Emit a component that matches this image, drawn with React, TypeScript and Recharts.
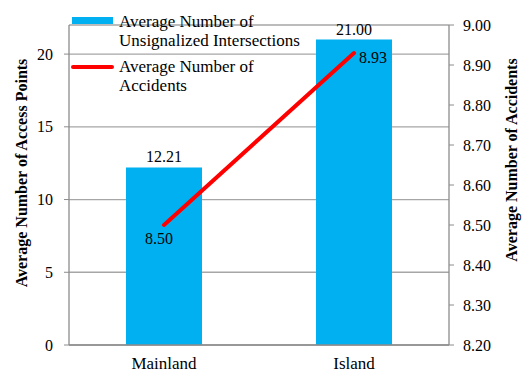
import React from 'react';
import { ComposedChart, Bar, Line, XAxis, YAxis, CartesianGrid, LabelList, Legend } from 'recharts';

const categories = ['Mainland', 'Island'];
const accessPoints = [12.21, 21.0];
const accidents = [8.5, 8.93];
const leftTicks = [0, 5, 10, 15, 20];
const rightTicks = [8.2, 8.3, 8.4, 8.5, 8.6, 8.7, 8.8, 8.9, 9.0];
const seriesNames = ['Average Number of Unsignalized Intersections', 'Average Number of Accidents'];
const leftTitle = 'Average Number of Access Points';
const rightTitle = 'Average Number of Accidents';

const data = categories.map((c, i) => ({ name: c, access: accessPoints[i], accidents: accidents[i], idx: i }));

const FONT = 'Liberation Serif, Times New Roman, serif';
const BLUE = '#00B0F0';
const RED = '#FF0000';
const GRID = '#A6A6A6';
const AXIS = '#8C8C8C';

const tickStyle = { fontFamily: FONT, fontSize: 16, fill: '#000' };
const catStyle = { fontFamily: FONT, fontSize: 17, fill: '#000' };

const LineLabel = (props: any) => {
  const { x, y, value, index } = props;
  const txt = Number(value).toFixed(2);
  if (index === 0) {
    return (
      <text x={x - 5} y={y + 19} textAnchor="middle" fontFamily={FONT} fontSize={16} fill="#000">{txt}</text>
    );
  }
  return (
    <text x={x + 5} y={y + 10} textAnchor="start" fontFamily={FONT} fontSize={16} fill="#000">{txt}</text>
  );
};

const LegendContent = () => (
  <svg width={330} height={100} style={{ display: 'block' }} fontFamily={FONT} fontSize={17}>
    <rect x={72} y={17} width={41} height={7} fill={BLUE} />
    <text x={119} y={27}>Average Number of</text>
    <text x={119} y={46}>Unsignalized Intersections</text>
    <line x1={73} x2={112} y1={67} y2={67} stroke={RED} strokeWidth={4} strokeLinecap="round" />
    <text x={119} y={72}>Average Number of</text>
    <text x={119} y={91}>Accidents</text>
  </svg>
);

const AxisTitle = (cx: number, cy: number, text: string) => (
  <text
    x={cx}
    y={cy}
    transform={`rotate(-90, ${cx}, ${cy})`}
    textAnchor="middle"
    dominantBaseline="central"
    fontFamily={FONT}
    fontSize={16}
    fontWeight="bold"
    fill="#000"
  >
    {text}
  </text>
);

export default function App() {
  return (
    <div style={{ position: 'absolute', left: 0, top: 0, width: 522, height: 372, background: '#fff', fontFamily: FONT }}>
      <ComposedChart
        width={522}
        height={372}
        data={data}
        margin={{ top: 25, right: 0, bottom: 0, left: 0 }}
        barCategoryGap="30%"
        style={{ fontFamily: FONT }}
      >
        <CartesianGrid yAxisId="left" vertical={false} stroke={GRID} strokeWidth={1.3} />
        <XAxis
          xAxisId="marks"
          type="number"
          dataKey="idx"
          domain={[0, 2]}
          ticks={[0, 1, 2]}
          height={0}
          axisLine={false}
          tickLine={{ stroke: AXIS }}
          tickSize={5}
          tickFormatter={() => ''}
          allowDataOverflow
        />
        <XAxis
          dataKey="name"
          height={27}
          tickLine={false}
          axisLine={{ stroke: AXIS, strokeWidth: 1.3 }}
          tick={catStyle}
          tickMargin={6}
        />
        <YAxis
          yAxisId="left"
          width={69}
          domain={[0, 22]}
          ticks={leftTicks}
          tick={tickStyle}
          tickSize={5}
          tickMargin={11}
          axisLine={{ stroke: AXIS, strokeWidth: 1.3 }}
          tickLine={{ stroke: AXIS }}
          label={(p: any) => AxisTitle(21, 173, leftTitle)}
        />
        <YAxis
          yAxisId="right"
          orientation="right"
          width={73}
          domain={[8.2, 9.0]}
          ticks={rightTicks}
          tick={tickStyle}
          tickFormatter={(v: number) => v.toFixed(2)}
          tickSize={5}
          tickMargin={9}
          axisLine={{ stroke: AXIS, strokeWidth: 1.3 }}
          tickLine={{ stroke: AXIS }}
          label={(p: any) => AxisTitle(511, 160, rightTitle)}
        />
        <Legend
          layout="horizontal"
          verticalAlign="middle"
          align="center"
          content={() => <LegendContent />}
          wrapperStyle={{ position: 'absolute', left: 0, top: 0, width: 330, height: 100 }}
        />
        <Bar yAxisId="left" dataKey="access" name={seriesNames[0]} fill={BLUE} isAnimationActive={false}>
          <LabelList
            dataKey="access"
            position="top"
            offset={5}
            formatter={(v: any) => Number(v).toFixed(2)}
            fontFamily={FONT}
            fontSize={16}
            fill="#000"
          />
        </Bar>
        <Line
          yAxisId="right"
          type="linear"
          dataKey="accidents"
          name={seriesNames[1]}
          stroke={RED}
          strokeWidth={4}
          dot={false}
          activeDot={false}
          strokeLinecap="round"
          isAnimationActive={false}
        >
          <LabelList dataKey="accidents" content={LineLabel} />
        </Line>
      </ComposedChart>
    </div>
  );
}
